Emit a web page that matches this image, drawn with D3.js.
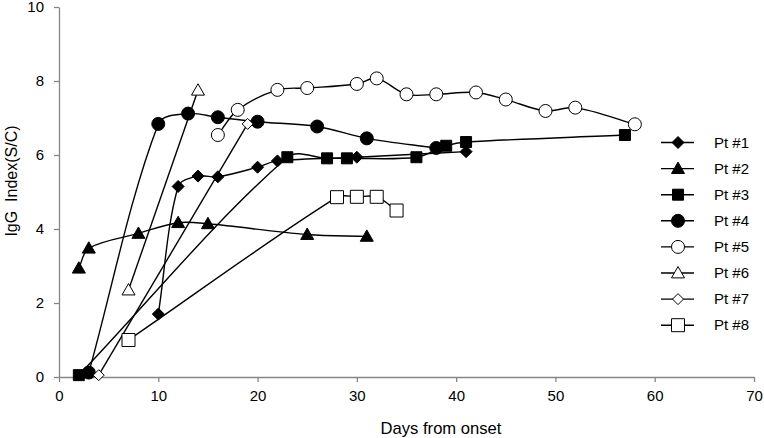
<!DOCTYPE html>
<html><head><meta charset="utf-8">
<script src="https://cdn.jsdelivr.net/npm/d3@7"></script>
<style>body{margin:0;background:#fff}svg{display:block;font-family:"Liberation Sans",Arial,sans-serif}</style>
</head><body><svg id="c" width="764" height="438"></svg>
<script>
const seriesNames = ["Pt #1","Pt #2","Pt #3","Pt #4","Pt #5","Pt #6","Pt #7","Pt #8"];
const pt1 = [[10,1.70],[12,5.15],[14,5.43],[16,5.41],[20,5.67],[22,5.84],[30,5.94],[41,6.09]];
const pt2 = [[2,2.94],[3,3.48],[8,3.88],[12,4.17],[15,4.14],[25,3.85],[31,3.80]];
const pt3 = [[2,0.05],[23,5.94],[27,5.91],[29,5.91],[36,5.94],[39,6.25],[41,6.35],[57,6.54]];
const pt4 = [[3,0.12],[10,6.84],[13,7.12],[16,7.02],[20,6.90],[26,6.77],[31,6.45],[38,6.19]];
const pt5 = [[16,6.54],[18,7.22],[22,7.76],[25,7.81],[30,7.92],[32,8.07],[35,7.64],[38,7.64],[42,7.69],[45,7.50],[49,7.19],[52,7.28],[58,6.83]];
const pt6 = [[7,2.35],[14,7.75]];
const pt7 = [[4,0.05],[19,6.84]];
const pt8 = [[7,1.00],[28,4.86],[30,4.87],[32,4.87],[34,4.50]];
const xTicks = [0,10,20,30,40,50,60,70];
const yTicks = [0,2,4,6,8,10];

const series = [pt1,pt2,pt3,pt4,pt5,pt6,pt7,pt8];
const shapes = ["diamond","triangle","square","circle","circle","triangle","diamond","square"];
const filled = [true,true,true,true,false,false,false,false];
const sizes = [6,6.5,5.5,6.5,6.5,6.5,5.5,6.5];

const svg = d3.select("#c");
const x = d3.scaleLinear().domain([0,70]).range([59,754]);
const y = d3.scaleLinear().domain([0,10]).range([377,7]);
const axisColor = "#868686";

function shapePath(shape, s){
  if(shape==="diamond") return `M0,${-s}L${s},0L0,${s}L${-s},0Z`;
  if(shape==="square") return `M${-s},${-s}H${s}V${s}H${-s}Z`;
  if(shape==="triangle") return `M0,${-s}L${s},${s*0.75}L${-s},${s*0.75}Z`;
  if(shape==="circle") return `M${s},0A${s},${s} 0 1,1 ${-s},0A${s},${s} 0 1,1 ${s},0Z`;
}

// Excel-like smoothed line: Catmull-Rom tangents with handles scaled by chord lengths
function smoothPath(data){
  const P = data.map(d=>[x(d[0]),y(d[1])]);
  const n = P.length;
  const p = d3.path();
  p.moveTo(P[0][0],P[0][1]);
  if(n===2){ p.lineTo(P[1][0],P[1][1]); return p.toString(); }
  const dist=(a,b)=>Math.hypot(b[0]-a[0],b[1]-a[1]);
  const D=[]; for(let i=0;i<n-1;i++) D.push(dist(P[i],P[i+1]));
  const T=P.map((pt,i)=>{
    const a=P[Math.max(0,i-1)], b=P[Math.min(n-1,i+1)];
    return [b[0]-a[0],b[1]-a[1]];
  });
  const s=1/3;
  for(let i=0;i<n-1;i++){
    const dPrev = i>0?D[i-1]:0, dNext = i+1<n-1?D[i+1]:0;
    const f1 = D[i]/(dPrev+D[i]), f2 = D[i]/(D[i]+dNext);
    const c1=[P[i][0]+T[i][0]*s*f1, P[i][1]+T[i][1]*s*f1];
    const c2=[P[i+1][0]-T[i+1][0]*s*f2, P[i+1][1]-T[i+1][1]*s*f2];
    p.bezierCurveTo(c1[0],c1[1],c2[0],c2[1],P[i+1][0],P[i+1][1]);
  }
  return p.toString();
}

// axes
const xAxis = svg.append("g").attr("transform","translate(0,377)")
  .call(d3.axisBottom(x).tickValues(xTicks).tickSize(5).tickSizeOuter(0).tickPadding(5));
const yAxis = svg.append("g").attr("transform","translate(59,0)")
  .call(d3.axisLeft(y).tickValues(yTicks).tickSize(5).tickSizeOuter(0).tickPadding(10));
[xAxis,yAxis].forEach(a=>{
  a.select(".domain").attr("stroke",axisColor).attr("stroke-width",1.3);
  a.selectAll(".tick line").attr("stroke",axisColor).attr("stroke-width",1.3);
  a.selectAll(".tick text").attr("fill","#000").style("font-size","15px").style("font-family","'Liberation Sans',Arial,sans-serif");
});
xAxis.selectAll(".tick text").attr("dy","0.95em");

svg.append("text").attr("x",441).attr("y",434).attr("text-anchor","middle")
  .style("font-size","16.6px").text("Days from onset");
svg.append("text").attr("transform","translate(17,181) rotate(-90)").attr("text-anchor","middle")
  .style("font-size","16px").text("IgG\u00a0 Index(S/C)");

series.forEach((data,i)=>{
  const g = svg.append("g");
  g.append("path").attr("d",smoothPath(data)).attr("fill","none").attr("stroke","#000").attr("stroke-width",1.4);
  g.selectAll("path.m").data(data).join("path").attr("class","m")
    .attr("transform",d=>`translate(${x(d[0])},${y(d[1])})`)
    .attr("d",shapePath(shapes[i],sizes[i]))
    .attr("fill",filled[i]?"#000":"#fff")
    .attr("stroke","#000").attr("stroke-width",1);
});

// legend
const lg = svg.append("g");
seriesNames.forEach((name,i)=>{
  const yy = 142.5 + i*26.1;
  lg.append("line").attr("x1",661).attr("x2",694).attr("y1",yy).attr("y2",yy).attr("stroke","#000").attr("stroke-width",1.4);
  lg.append("path").attr("transform",`translate(678,${yy})`).attr("d",shapePath(shapes[i],sizes[i]))
    .attr("fill",filled[i]?"#000":"#fff").attr("stroke","#000").attr("stroke-width",1);
  lg.append("text").attr("x",714).attr("y",yy).attr("dy","0.35em").style("font-size","15px").text(name);
});
</script></body></html>
